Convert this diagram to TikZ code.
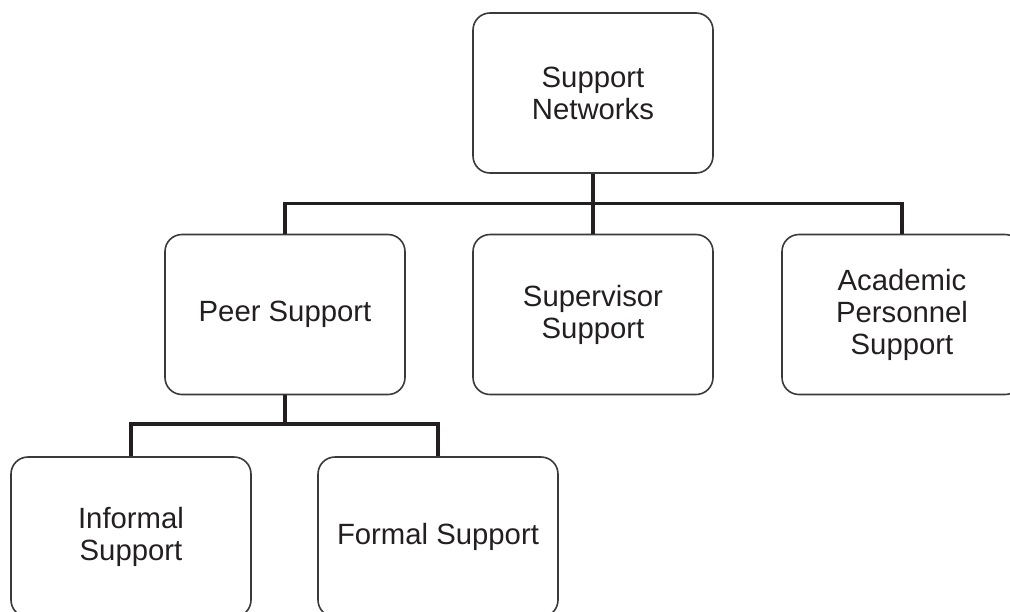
\documentclass[tikz,border=0pt]{standalone}
\usepackage{fontspec}
\setmainfont{Liberation Sans}
\usepackage{tikz}
\usepackage{xcolor}
\usetikzlibrary{positioning, calc}
\definecolor{ink}{HTML}{231F20}
\definecolor{rim}{HTML}{3A3A3A}

\begin{document}
\begin{tikzpicture}[x=1pt, y=-1pt,
    box/.style={draw=rim, line width=1.6pt, rounded corners=17pt,
        minimum width=240pt, minimum height=160pt, inner sep=0pt,
        align=center, text=ink, font=\fontsize{29.3}{32}\selectfont},
    link/.style={draw=ink, line width=3.2pt}]
                        \useasboundingbox (0, 0) rectangle (1010, 611);
                        \node[box] (net) at (593, 93) {Support\\Networks};
                        \node[box] (peer) at (285, 314.5) {Peer Support};
                        \node[box] (sup) at (593, 314.5) {Supervisor\\Support};
                        \node[box] (acad) at (902, 314.5) {Academic\\Personnel\\Support};
                        \node[box] (inf) at (131, 537) {Informal\\Support};
                        \node[box] (form) at (438, 537) {Formal Support};
                        \coordinate (bar1) at (593, 203.5);
                        \coordinate (bar2) at (285, 424);
                        \draw[link]
                        (net.south) -- (sup.north)
                        (peer.north) |- (bar1) -| (acad.north)
                        (peer.south) -- (bar2)
                        (inf.north) |- (bar2) -| (form.north);
                    \end{tikzpicture}
\end{document}
